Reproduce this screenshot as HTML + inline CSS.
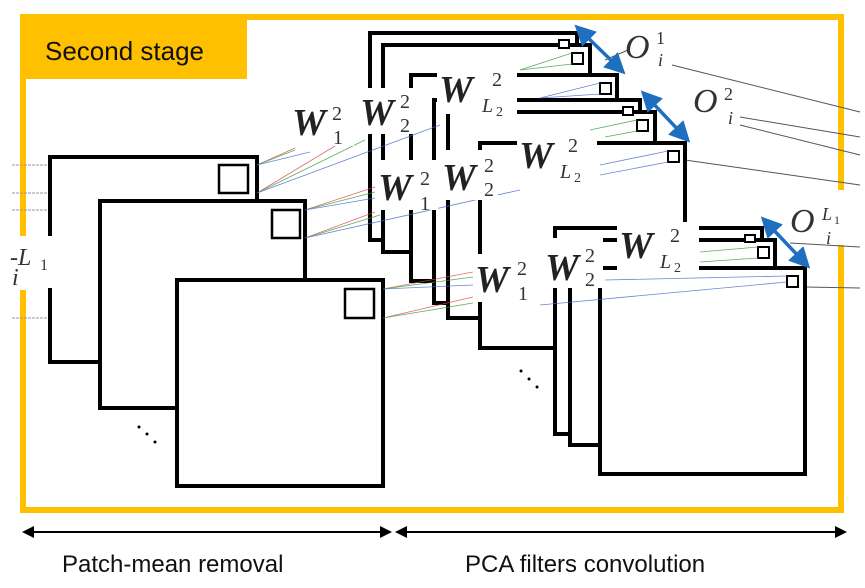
<!DOCTYPE html>
<html><head><meta charset="utf-8"><style>
html,body{margin:0;padding:0;background:#fff;}
svg{display:block}
.w{font-family:"Liberation Serif",serif;font-weight:bold;font-style:italic;fill:#222}
.s{font-family:"Liberation Serif",serif;font-style:italic;fill:#333}
.n{font-family:"Liberation Serif",serif;fill:#333}
</style></head><body>
<svg width="865" height="588" viewBox="0 0 865 588" xmlns="http://www.w3.org/2000/svg">
<rect width="865" height="588" fill="#fff"/>
<!-- frame -->
<g fill="none" stroke="#FFC000" stroke-width="6">
<path d="M23 240 V17 H841 V190"/>
<path d="M841 245 V510 H23 V290"/>
</g>
<rect x="20" y="14" width="227" height="65" fill="#FFC000"/>
<text x="45" y="60" font-family="Liberation Sans, sans-serif" font-size="26" fill="#111">Second stage</text>

<!-- gray guide lines -->
<g stroke="#999" stroke-width="1" stroke-dasharray="3,1">
<line x1="12" y1="165" x2="250" y2="165"/><line x1="12" y1="193" x2="250" y2="193"/>
<line x1="12" y1="210" x2="300" y2="210"/><line x1="12" y1="238" x2="300" y2="238"/>
<line x1="55" y1="289" x2="375" y2="289"/><line x1="12" y1="318" x2="375" y2="318"/>
</g>
<g stroke="#555" stroke-width="1">
<line x1="672" y1="65" x2="860" y2="112"/><line x1="740" y1="117" x2="860" y2="137"/>
<line x1="740" y1="125" x2="860" y2="155"/><line x1="685" y1="160" x2="860" y2="185"/>
<line x1="790" y1="243" x2="860" y2="247"/><line x1="805" y1="287" x2="860" y2="288"/>
<line x1="605" y1="60" x2="628" y2="50"/>
</g>

<!-- left stack -->
<g fill="#fff" stroke="#000" stroke-width="4">
<rect x="50" y="157" width="207" height="205"/>
<rect x="100" y="201" width="205" height="207"/>
<rect x="177" y="280" width="206" height="206"/>
</g>
<g fill="none" stroke="#000" stroke-width="2.5">
<rect x="219" y="165" width="29" height="28"/>
<rect x="272" y="210" width="28" height="28"/>
<rect x="345" y="289" width="29" height="29"/>
</g>
<g fill="#000"><circle cx="139" cy="427" r="1.5"/><circle cx="147" cy="434" r="1.5"/><circle cx="155" cy="442" r="1.5"/>
<circle cx="521" cy="371" r="1.5"/><circle cx="529" cy="379" r="1.5"/><circle cx="537" cy="387" r="1.5"/></g>
<rect x="10" y="236" width="50" height="52" fill="#fff"/>
<text x="10" y="265" class="s" font-size="24">-L</text><text x="40" y="270" class="n" font-size="16">1</text>
<text x="12" y="285" class="s" font-size="24">i</text>

<!-- right stacks -->
<g fill="#fff" stroke="#000" stroke-width="4">
<rect x="370" y="33" width="207" height="207"/>
<rect x="383" y="45" width="207" height="207"/>
<rect x="411" y="75" width="206" height="206"/>
<rect x="434" y="100" width="206" height="203"/>
<rect x="448" y="112" width="207" height="206"/>
<rect x="480" y="143" width="205" height="205"/>
<rect x="555" y="228" width="207" height="206"/>
<rect x="570" y="240" width="205" height="205"/>
<rect x="600" y="268" width="205" height="206"/>
</g>
<g fill="#fff" stroke="#000" stroke-width="2">
<rect x="559" y="40" width="10" height="8"/><rect x="572" y="53" width="11" height="11"/><rect x="600" y="83" width="11" height="11"/>
<rect x="623" y="107" width="10" height="8"/><rect x="637" y="120" width="11" height="11"/><rect x="668" y="151" width="11" height="11"/>
<rect x="745" y="235" width="10" height="7"/><rect x="758" y="247" width="11" height="11"/><rect x="787" y="276" width="11" height="11"/>
</g>

<!-- colored thin lines -->
<g stroke-width="0.8" opacity="0.8">
<line x1="257" y1="165" x2="295" y2="148" stroke="#d44"/><line x1="257" y1="165" x2="295" y2="150" stroke="#393"/><line x1="257" y1="165" x2="310" y2="152" stroke="#46c"/>
<line x1="257" y1="193" x2="345" y2="140" stroke="#d44"/><line x1="257" y1="193" x2="365" y2="140" stroke="#393"/><line x1="257" y1="193" x2="440" y2="125" stroke="#46c"/>
<line x1="305" y1="210" x2="375" y2="187" stroke="#d44"/><line x1="305" y1="210" x2="375" y2="192" stroke="#393"/><line x1="305" y1="210" x2="375" y2="198" stroke="#46c"/>
<line x1="305" y1="238" x2="375" y2="212" stroke="#d44"/><line x1="305" y1="238" x2="380" y2="215" stroke="#393"/><line x1="305" y1="238" x2="520" y2="190" stroke="#46c"/>
<line x1="383" y1="289" x2="473" y2="272" stroke="#d44"/><line x1="383" y1="289" x2="473" y2="277" stroke="#393"/><line x1="383" y1="289" x2="473" y2="285" stroke="#46c"/>
<line x1="383" y1="318" x2="473" y2="297" stroke="#d44"/><line x1="383" y1="318" x2="473" y2="303" stroke="#393"/><line x1="540" y1="305" x2="787" y2="282" stroke="#46c"/>
<line x1="520" y1="70" x2="572" y2="53" stroke="#393"/><line x1="520" y1="70" x2="572" y2="64" stroke="#393"/>
<line x1="540" y1="98" x2="600" y2="83" stroke="#46c"/><line x1="540" y1="98" x2="600" y2="94" stroke="#46c"/>
<line x1="590" y1="130" x2="637" y2="120" stroke="#393"/><line x1="605" y1="137" x2="637" y2="131" stroke="#393"/>
<line x1="600" y1="165" x2="668" y2="151" stroke="#46c"/><line x1="600" y1="175" x2="668" y2="162" stroke="#46c"/>
<line x1="700" y1="252" x2="758" y2="247" stroke="#393"/><line x1="700" y1="262" x2="758" y2="258" stroke="#393"/>
<line x1="605" y1="280" x2="787" y2="276" stroke="#46c"/>
</g>

<!-- W labels -->
<g>
<rect x="292" y="100" width="62" height="46" fill="#fff"/>
<text x="292" y="135" class="w" font-size="38">W</text><text x="332" y="120" class="n" font-size="20">2</text><text x="333" y="144" class="n" font-size="20">1</text>
<rect x="358" y="88" width="56" height="46" fill="#fff"/>
<text x="360" y="125" class="w" font-size="38">W</text><text x="400" y="108" class="n" font-size="20">2</text><text x="400" y="132" class="n" font-size="20">2</text>
<rect x="437" y="68" width="80" height="46" fill="#fff"/>
<text x="439" y="102" class="w" font-size="38">W</text><text x="492" y="86" class="n" font-size="20">2</text><text x="482" y="112" class="s" font-size="20">L</text><text x="496" y="116" class="n" font-size="14">2</text>

<rect x="376" y="160" width="62" height="50" fill="#fff"/>
<text x="378" y="200" class="w" font-size="38">W</text><text x="420" y="185" class="n" font-size="20">2</text><text x="420" y="210" class="n" font-size="20">1</text>
<rect x="440" y="150" width="58" height="50" fill="#fff"/>
<text x="442" y="190" class="w" font-size="38">W</text><text x="484" y="172" class="n" font-size="20">2</text><text x="484" y="196" class="n" font-size="20">2</text>
<rect x="517" y="132" width="80" height="50" fill="#fff"/>
<text x="519" y="168" class="w" font-size="38">W</text><text x="568" y="152" class="n" font-size="20">2</text><text x="560" y="178" class="s" font-size="20">L</text><text x="574" y="182" class="n" font-size="14">2</text>

<rect x="473" y="254" width="66" height="48" fill="#fff"/>
<text x="475" y="292" class="w" font-size="38">W</text><text x="517" y="275" class="n" font-size="20">2</text><text x="518" y="300" class="n" font-size="20">1</text>
<rect x="543" y="238" width="60" height="50" fill="#fff"/>
<text x="545" y="280" class="w" font-size="38">W</text><text x="585" y="262" class="n" font-size="20">2</text><text x="585" y="286" class="n" font-size="20">2</text>
<rect x="617" y="222" width="82" height="48" fill="#fff"/>
<text x="619" y="258" class="w" font-size="38">W</text><text x="670" y="242" class="n" font-size="20">2</text><text x="660" y="268" class="s" font-size="20">L</text><text x="674" y="272" class="n" font-size="14">2</text>
</g>

<!-- O labels -->
<text x="625" y="58" class="s" font-size="34">O</text><text x="656" y="44" class="n" font-size="18">1</text><text x="658" y="66" class="s" font-size="18">i</text>
<text x="693" y="112" class="s" font-size="34">O</text><text x="724" y="100" class="n" font-size="18">2</text><text x="728" y="124" class="s" font-size="18">i</text>
<text x="790" y="232" class="s" font-size="34">O</text><text x="822" y="220" class="s" font-size="18">L</text><text x="834" y="224" class="n" font-size="12">1</text><text x="826" y="244" class="s" font-size="18">i</text>

<!-- blue double arrows -->
<defs><marker id="b" markerWidth="6" markerHeight="6" refX="3" refY="3" orient="auto-start-reverse"><path d="M0,0 L6,3 L0,6 Z" fill="#1f6fc0"/></marker>
<marker id="k" markerWidth="6" markerHeight="6" refX="4" refY="3" orient="auto-start-reverse"><path d="M0,0 L6,3 L0,6 Z" fill="#000"/></marker></defs>
<g stroke="#1f6fc0" stroke-width="3.5">
<line x1="582" y1="32" x2="618" y2="67" marker-start="url(#b)" marker-end="url(#b)"/>
<line x1="648" y1="98" x2="683" y2="135" marker-start="url(#b)" marker-end="url(#b)"/>
<line x1="768" y1="224" x2="803" y2="261" marker-start="url(#b)" marker-end="url(#b)"/>
</g>

<!-- bottom arrows -->
<g stroke="#000" stroke-width="2">
<line x1="26" y1="532" x2="388" y2="532" marker-start="url(#k)" marker-end="url(#k)"/>
<line x1="399" y1="532" x2="843" y2="532" marker-start="url(#k)" marker-end="url(#k)"/>
</g>
<text x="62" y="572" font-family="Liberation Sans, sans-serif" font-size="24" fill="#111">Patch-mean removal</text>
<text x="465" y="572" font-family="Liberation Sans, sans-serif" font-size="24" fill="#111">PCA  filters convolution</text>
</svg>
</body></html>
